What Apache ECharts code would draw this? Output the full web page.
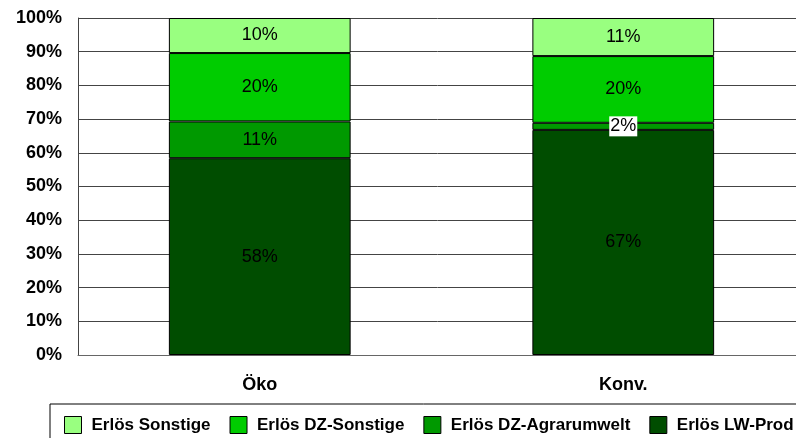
<!DOCTYPE html>
<html>
<head>
<meta charset="utf-8">
<script src="https://cdn.jsdelivr.net/npm/echarts@6/dist/echarts.min.js"></script>
<style>
  html, body { margin: 0; padding: 0; background: #fff; }
  #myChart { width: 796px; height: 438px; }
</style>
</head>
<body>
<div id="myChart"></div>
<script>
// Kategorien und Anteile (%)
var categories = ['Öko', 'Konv.']
var seriesNames = ['Erlös LW-Prod', 'Erlös DZ-Agrarumwelt', 'Erlös DZ-Sonstige', 'Erlös Sonstige']
var lwProd = [58.4, 66.8]
var dzAgrar = [10.9, 2.1]
var dzSonstige = [20.3, 19.8]
var sonstige = [10.4, 11.3]
var yTicks = [0, 10, 20, 30, 40, 50, 60, 70, 80, 90, 100]
var colors = ['#004d00', '#009900', '#00cc00', '#99ff80']

var values = [lwProd, dzAgrar, dzSonstige, sonstige]

var myChart = echarts.init(document.getElementById('myChart'))

var series = seriesNames.map(function (name, i) {
  return {
    name: name,
    type: 'bar',
    stack: 'total',
    barWidth: '50%',
    itemStyle: { color: colors[i], borderColor: '#000', borderWidth: 1 },
    label: {
      show: true,
      position: 'inside',
      fontFamily: 'Liberation Sans',
      fontSize: 18,
      color: '#000',
      formatter: function (p) { return Math.round(p.value) + '%' }
    },
    data: values[i].map(function (v) {
      // kleiner Anteil: Beschriftung mit weißem Hintergrund
      if (v < 5) {
        return { value: v, label: { backgroundColor: '#fff', padding: [2, 1, 0, 1] } }
      }
      return v
    })
  }
})

myChart.setOption({
  animation: false,
  grid: { left: 78, top: 18, height: 337, width: 727, outerBoundsMode: 'none' },
  legend: {
    data: seriesNames.slice().reverse(),
    left: 50,
    top: 404,
    width: 900,
    orient: 'horizontal',
    padding: [12, 14, 20, 14],
    borderColor: '#000',
    borderWidth: 1,
    itemWidth: 17,
    itemHeight: 17,
    itemGap: 19,
    icon: 'rect',
    itemStyle: { borderColor: '#000', borderWidth: 1 },
    textStyle: {
      fontFamily: 'Liberation Sans',
      fontSize: 17,
      fontWeight: 'bold',
      color: '#000',
      padding: [0, 0, 0, 5]
    }
  },
  xAxis: {
    type: 'category',
    data: categories,
    axisTick: { show: false },
    axisLine: { lineStyle: { color: '#666', width: 1 } },
    axisLabel: {
      margin: 21,
      fontFamily: 'Liberation Sans',
      fontSize: 18,
      fontWeight: 'bold',
      color: '#000'
    }
  },
  yAxis: {
    type: 'value',
    min: yTicks[0],
    max: yTicks[yTicks.length - 1],
    interval: 10,
    axisLine: { show: true, lineStyle: { color: '#444', width: 1 } },
    axisTick: { show: false },
    splitLine: { lineStyle: { color: '#444', width: 1 } },
    axisLabel: {
      margin: 16,
      fontFamily: 'Liberation Sans',
      fontSize: 18,
      fontWeight: 'bold',
      color: '#000',
      formatter: '{value}%'
    }
  },
  series: series
})
</script>
</body>
</html>
